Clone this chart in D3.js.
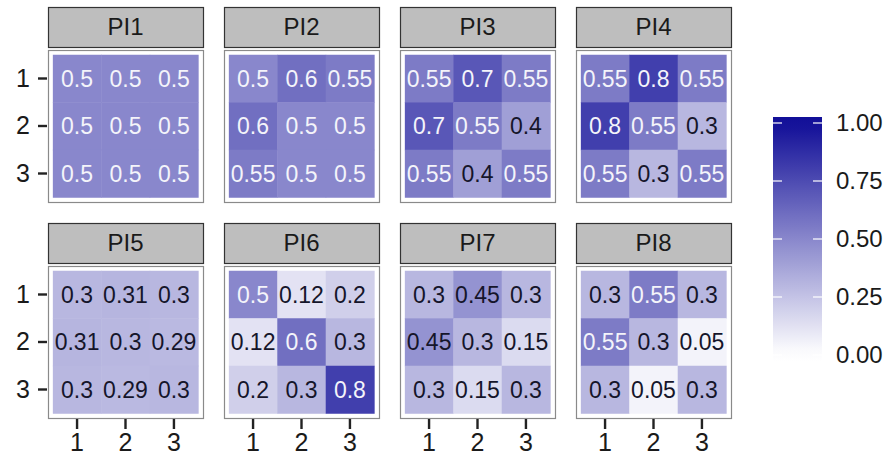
<!DOCTYPE html>
<html>
<head>
<meta charset="utf-8">
<script src="https://cdn.jsdelivr.net/npm/d3@7"></script>
<style>
  body { margin: 0; background: #fff; }
  text { font-family: "Liberation Sans", Arial, sans-serif; }
</style>
</head>
<body>
<div id="chart"></div>
<script>
// panel names and axis categories
const panelNames = ["PI1", "PI2", "PI3", "PI4", "PI5", "PI6", "PI7", "PI8"];
const rowLabels = ["1", "2", "3"];
const colLabels = ["1", "2", "3"];

// 3x3 matrices, one per panel (row-major)
const pi1 = [[0.5, 0.5, 0.5], [0.5, 0.5, 0.5], [0.5, 0.5, 0.5]];
const pi2 = [[0.5, 0.6, 0.55], [0.6, 0.5, 0.5], [0.55, 0.5, 0.5]];
const pi3 = [[0.55, 0.7, 0.55], [0.7, 0.55, 0.4], [0.55, 0.4, 0.55]];
const pi4 = [[0.55, 0.8, 0.55], [0.8, 0.55, 0.3], [0.55, 0.3, 0.55]];
const pi5 = [[0.3, 0.31, 0.3], [0.31, 0.3, 0.29], [0.3, 0.29, 0.3]];
const pi6 = [[0.5, 0.12, 0.2], [0.12, 0.6, 0.3], [0.2, 0.3, 0.8]];
const pi7 = [[0.3, 0.45, 0.3], [0.45, 0.3, 0.15], [0.3, 0.15, 0.3]];
const pi8 = [[0.3, 0.55, 0.3], [0.55, 0.3, 0.05], [0.3, 0.05, 0.3]];
const matrices = [pi1, pi2, pi3, pi4, pi5, pi6, pi7, pi8];

const legendTicks = [0, 0.25, 0.5, 0.75, 1];

const width = 891, height = 463;

// facet layout
const colX = [48, 224, 400, 576];
const rowY = [7, 223];
const panelW = 155, stripH = 40, stripGap = 3, panelH = 152;

// white -> deep blue
const color = d3.scaleLinear()
    .domain([0, 1])
    .range(["#ffffff", "#120f98"])
    .interpolate(d3.interpolateRgb);

const svg = d3.select("#chart").append("svg")
    .attr("width", width)
    .attr("height", height);

function styleAxis(a, size) {
    a.select(".domain").remove();
    a.selectAll("line").attr("stroke", "#222").attr("stroke-width", 2.4);
    a.selectAll("text")
        .attr("font-size", size)
        .attr("fill", "#1a1a1a")
        .attr("font-family", "Liberation Sans, Arial, sans-serif");
}

matrices.forEach((m, i) => {
    const c = i % 4, r = Math.floor(i / 4);
    const x0 = colX[c], y0 = rowY[r];
    const g = svg.append("g").attr("transform", `translate(${x0},${y0})`);

    // strip
    g.append("rect")
        .attr("x", 0.5).attr("y", 0.5)
        .attr("width", panelW).attr("height", stripH)
        .attr("fill", "#bebebe")
        .attr("stroke", "#333").attr("stroke-width", 1.2);
    g.append("text")
        .attr("x", panelW / 2).attr("y", stripH / 2 + 8)
        .attr("text-anchor", "middle")
        .attr("font-size", 24)
        .attr("fill", "#1a1a1a")
        .text(panelNames[i]);

    const p = g.append("g").attr("transform", `translate(0,${stripH + stripGap})`);

    const x = d3.scaleBand().domain(colLabels).range([0, panelW]).paddingInner(0).paddingOuter(0.1);
    const y = d3.scaleBand().domain(rowLabels).range([0, panelH]).paddingInner(0).paddingOuter(0.1);

    const cells = [];
    m.forEach((row, ri) => row.forEach((v, ci) => cells.push({ r: rowLabels[ri], c: colLabels[ci], v })));

    p.append("rect")
        .attr("x", 0.5).attr("y", 0.5)
        .attr("width", panelW).attr("height", panelH)
        .attr("fill", "#fff")
        .attr("stroke", "#8a8a8a").attr("stroke-width", 1.2);

    p.selectAll("rect.cell")
        .data(cells)
        .enter()
        .append("rect")
        .attr("class", "cell")
        .attr("x", d => x(d.c))
        .attr("y", d => y(d.r))
        .attr("width", x.bandwidth() + 0.5)
        .attr("height", y.bandwidth() + 0.5)
        .attr("fill", d => color(d.v));

    p.selectAll("text.val")
        .data(cells)
        .enter()
        .append("text")
        .attr("class", "val")
        .attr("x", d => x(d.c) + x.bandwidth() / 2)
        .attr("y", d => y(d.r) + y.bandwidth() / 2 + 8)
        .attr("text-anchor", "middle")
        .attr("font-size", 23)
        .attr("fill", d => d.v >= 0.5 ? "#f4f4fa" : "#15152a")
        .text(d => d.v);

    if (c === 0) {
        const ay = p.append("g")
            .attr("transform", "translate(-1,0)")
            .call(d3.axisLeft(y).tickSize(9).tickPadding(8));
        styleAxis(ay, 25);
    }
    if (r === 1) {
        const ax = p.append("g")
            .attr("transform", `translate(0,${panelH + 1})`)
            .call(d3.axisBottom(x).tickSize(10).tickPadding(4));
        styleAxis(ax, 25);
    }
});

// colour bar legend
const legX = 773, legW = 49, legTop = 117, legBot = 361;
const ly = d3.scaleLinear().domain([0, 1]).range([355, 123]);

const defs = svg.append("defs");
const grad = defs.append("linearGradient")
    .attr("id", "legGrad")
    .attr("x1", 0).attr("y1", 1).attr("x2", 0).attr("y2", 0);
d3.range(0, 1.0001, 0.05).forEach(t => {
    const v = Math.max(0, Math.min(1, ly.invert(legBot - t * (legBot - legTop))));
    grad.append("stop").attr("offset", t).attr("stop-color", color(v));
});

svg.append("rect")
    .attr("x", legX).attr("y", legTop)
    .attr("width", legW).attr("height", legBot - legTop)
    .attr("fill", "url(#legGrad)");

const lt = svg.append("g");
legendTicks.forEach(t => {
    lt.append("line")
        .attr("x1", legX).attr("x2", legX + 9)
        .attr("y1", ly(t)).attr("y2", ly(t))
        .attr("stroke", "#fff").attr("stroke-width", 1.2);
    lt.append("line")
        .attr("x1", legX + legW - 9).attr("x2", legX + legW)
        .attr("y1", ly(t)).attr("y2", ly(t))
        .attr("stroke", "#fff").attr("stroke-width", 1.2);
});

const la = svg.append("g")
    .attr("transform", `translate(${legX + legW},0)`)
    .call(d3.axisRight(ly).tickValues(legendTicks).tickFormat(d3.format(".2f")).tickSize(0).tickPadding(14));
la.select(".domain").remove();
la.selectAll("text").attr("font-size", 24).attr("fill", "#1a1a1a")
    .attr("font-family", "Liberation Sans, Arial, sans-serif");
</script>
</body>
</html>
